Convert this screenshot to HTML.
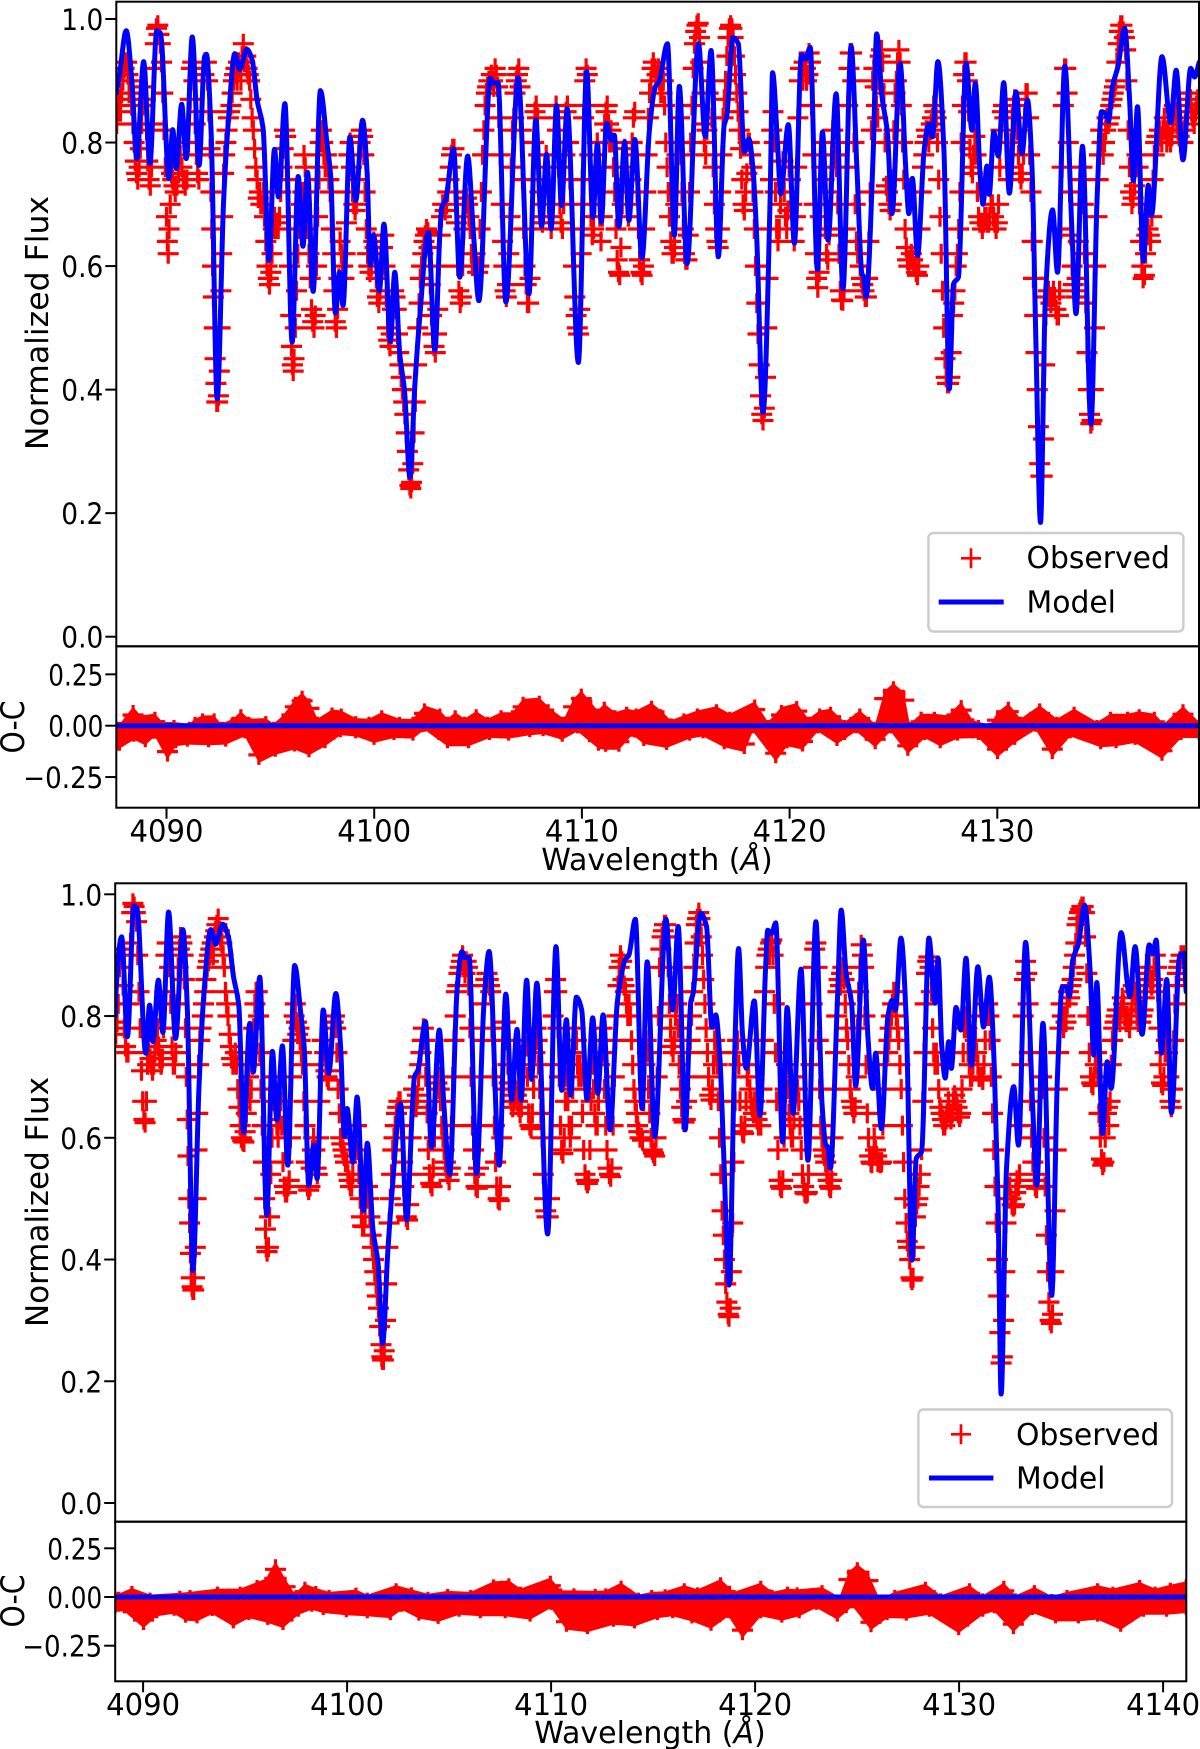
<!DOCTYPE html>
<html lang="en">
<head>
<meta charset="utf-8">
<title>Observed and model spectra</title>
<style>
html,body{margin:0;padding:0;background:#fff;}
svg{display:block;font-family:"DejaVu Sans","Liberation Sans",sans-serif;fill:#000;}
</style>
</head>
<body>
<svg id="chart" xmlns="http://www.w3.org/2000/svg" width="1200" height="1749" viewBox="0 0 1200 1749">
<rect x="0" y="0" width="1200" height="1749" fill="#fff"/>
<g id="panels"></g>

<text transform="translate(48,323) rotate(-90)" text-anchor="middle" font-size="31.5">Normalized Flux</text>
<text transform="translate(24,727) rotate(-90)" text-anchor="middle" font-size="32" textLength="53" lengthAdjust="spacingAndGlyphs">O-C</text>
<text x="657" y="870" text-anchor="middle" font-size="30">Wavelength (<tspan font-style="italic">Å</tspan>)</text>
<text transform="translate(48,1202) rotate(-90)" text-anchor="middle" font-size="31">Normalized Flux</text>
<text transform="translate(24,1601) rotate(-90)" text-anchor="middle" font-size="32" textLength="53" lengthAdjust="spacingAndGlyphs">O-C</text>
<text x="650" y="1743" text-anchor="middle" font-size="30">Wavelength (<tspan font-style="italic">Å</tspan>)</text>

<g>
<rect x="928.4" y="533" width="255" height="98.5" rx="5" fill="#fff" fill-opacity="0.8" stroke="#cccccc" stroke-width="2.4"/>
<path d="M961 558.3h20M971 548.3v20" stroke="#ff0000" stroke-width="2.7" fill="none"/>
<text x="1026.5" y="568" font-size="29.8">Observed</text>
<line x1="938.7" y1="602" x2="1003.7" y2="602" stroke="#0000ff" stroke-width="5"/>
<text x="1026.5" y="612.5" font-size="29.8">Model</text>
</g>
<g>
<rect x="918.4" y="1409.5" width="253.6" height="97.5" rx="5" fill="#fff" fill-opacity="0.8" stroke="#cccccc" stroke-width="2.4"/>
<path d="M951 1434.3h20M961 1424.3v20" stroke="#ff0000" stroke-width="2.7" fill="none"/>
<text x="1016" y="1445" font-size="29.8">Observed</text>
<line x1="929" y1="1478" x2="993.4" y2="1478" stroke="#0000ff" stroke-width="5"/>
<text x="1016" y="1488.3" font-size="29.8">Model</text>
</g>
</svg>

<script>
/* All wavelengths below are written as (wavelength - 4000 Angstrom), flat pairs: wave, value */
const waveTicksTop = [4090,4100,4110,4120,4130];
const waveTicksBottom = [4090,4100,4110,4120,4130,4140];
const fluxTicks = [0,0.2,0.4,0.6,0.8,1.0];
const fluxTickLabels = ["0.0","0.2","0.4","0.6","0.8","1.0"];
const residualTicks = [-0.25,0,0.25];
const residualTickLabels = ["\u22120.25","0.00","0.25"];

const modelTop = [
87.58,.88,87.73,.908,88.06,.981,88.33,.901,88.57,.774,88.90,.931,89.20,.766,89.53,.981,89.71,.977,90.12,.742,90.30,.821,90.47,.758,90.73,.862,90.95,.774,91.24,.971,91.57,.763,91.83,.939,91.92,.943,92.15,.815,92.44,.385,92.75,.706,92.97,.831,93.29,.944,93.53,.918,93.86,.951,94.13,.933,94.36,.869,94.65,.823,94.93,.609,95.20,.789,95.39,.712,95.70,.863,96.05,.477,96.34,.745,96.57,.632,96.79,.752,97.06,.559,97.41,.884,97.73,.798,97.91,.744,98.13,.524,98.33,.590,98.50,.536,98.83,.809,99.11,.706,99.44,.836,99.66,.750,99.81,.601,99.97,.650,100.25,.560,100.47,.668,100.78,.478,100.99,.590,101.23,.458,101.46,.398,101.72,.258,101.96,.409,102.18,.512,102.61,.655,102.92,.463,103.16,.652,103.25,.695,103.43,.706,103.82,.790,104.12,.582,104.50,.778,104.78,.652,105.04,.544,105.59,.904,105.74,.896,105.96,.897,106.34,.542,106.93,.905,107.45,.555,107.78,.837,108.06,.664,108.30,.781,108.52,.660,108.78,.860,109.02,.698,109.29,.855,109.83,.444,110.23,.915,110.53,.679,110.75,.798,110.93,.671,111.19,.831,111.41,.804,111.56,.812,111.78,.664,112.06,.801,112.26,.674,112.55,.805,112.89,.613,113.25,.820,113.53,.890,113.71,.898,114.12,.960,114.45,.650,114.69,.891,115.06,.604,115.61,.960,115.94,.810,116.22,.949,116.57,.615,116.85,.828,116.97,.842,117.27,.970,117.53,.960,117.82,.785,118.04,.806,118.23,.760,118.41,.652,118.72,.363,119.06,.706,119.18,.913,119.42,.798,119.57,.717,119.94,.829,120.23,.637,120.57,.942,120.77,.935,120.99,.954,121.34,.594,121.58,.817,121.85,.642,122.24,.879,122.57,.563,122.96,.956,123.24,.760,123.48,.588,123.57,.582,123.68,.550,124.03,.788,124.19,.976,124.45,.874,124.71,.815,124.93,.685,125.32,.928,125.59,.760,125.74,.685,125.91,.742,126.16,.617,126.48,.788,126.70,.830,126.88,.809,127.14,.931,127.43,.788,127.69,.401,127.89,.571,128.13,.582,128.50,.928,128.78,.820,128.94,.896,129.18,.744,129.31,.700,129.50,.762,129.61,.716,129.83,.817,130.05,.778,130.31,.897,130.58,.718,130.90,.882,131.19,.782,131.45,.869,131.67,.760,131.85,.490,132.08,.185,132.31,.544,132.66,.691,132.90,.590,133.25,.924,133.60,.652,133.79,.523,134.10,.794,134.51,.344,134.80,.706,135.02,.850,135.21,.847,135.35,.834,135.54,.890,135.81,.923,136.13,.985,136.37,.869,136.55,.738,136.75,.858,137.03,.608,137.27,.731,137.42,.682,137.93,.939,138.35,.832,138.61,.917,138.94,.772,139.31,.920,139.50,.906,139.72,.930];

const modelBottom = [
88.63,.80,88.66,.832,88.95,.930,89.23,.766,89.55,.981,89.70,.977,90.13,.739,90.32,.818,90.48,.758,90.75,.859,90.97,.773,91.25,.971,91.59,.763,91.95,.942,92.17,.810,92.44,.382,92.74,.684,92.98,.837,93.32,.942,93.56,.918,93.90,.951,94.18,.930,94.43,.865,94.69,.818,94.93,.609,95.23,.788,95.40,.708,95.72,.864,96.06,.473,96.34,.742,96.56,.629,96.83,.751,97.09,.555,97.43,.883,97.73,.804,97.90,.747,98.12,.522,98.37,.588,98.53,.533,98.83,.810,99.10,.706,99.45,.837,99.68,.750,99.87,.602,100.00,.648,100.28,.560,100.49,.667,100.80,.480,100.99,.591,101.27,.448,101.52,.393,101.74,.262,101.99,.410,102.21,.514,102.62,.656,102.92,.465,103.21,.656,103.30,.700,103.47,.711,103.84,.791,104.14,.584,104.52,.777,104.74,.656,105.03,.540,105.40,.848,105.63,.906,105.78,.896,105.98,.896,106.34,.541,106.71,.821,106.96,.906,107.46,.555,107.78,.836,108.07,.662,108.33,.778,108.53,.662,108.80,.859,109.04,.696,109.30,.854,109.83,.442,110.24,.914,110.52,.678,110.75,.794,110.95,.670,111.24,.831,111.50,.810,111.76,.663,112.04,.797,112.29,.673,112.55,.802,112.89,.613,113.24,.821,113.43,.865,113.62,.892,113.81,.900,114.13,.959,114.46,.648,114.71,.889,115.08,.602,115.63,.959,115.96,.810,116.23,.947,116.57,.613,116.85,.824,116.96,.837,117.32,.969,117.62,.947,117.88,.782,118.07,.802,118.27,.733,118.46,.574,118.72,.358,119.00,.739,119.19,.911,119.38,.771,119.57,.714,119.96,.825,120.24,.637,120.51,.876,120.62,.941,120.81,.936,121.01,.953,121.35,.593,121.57,.814,121.86,.640,122.25,.877,122.59,.563,122.98,.955,123.28,.656,123.47,.588,123.56,.585,123.69,.550,124.03,.821,124.22,.974,124.46,.870,124.73,.821,124.93,.685,125.31,.925,125.53,.766,125.76,.681,125.91,.739,126.19,.615,126.51,.799,126.72,.826,126.88,.810,127.15,.928,127.41,.793,127.69,.399,127.90,.566,128.16,.577,128.52,.928,128.82,.821,128.97,.895,129.15,.750,129.32,.698,129.49,.758,129.62,.714,129.85,.814,130.09,.777,130.34,.895,130.60,.719,130.92,.881,131.20,.782,131.48,.864,131.73,.711,131.91,.492,132.06,.179,132.32,.547,132.68,.684,132.91,.588,133.26,.921,133.60,.656,133.81,.522,134.11,.788,134.54,.341,134.82,.700,135.06,.848,135.25,.848,135.40,.832,135.57,.892,135.85,.919,136.15,.982,136.42,.876,136.60,.736,136.75,.855,137.03,.607,137.26,.725,137.45,.681,137.94,.937,138.37,.832,138.63,.914,138.97,.770,139.32,.917,139.51,.903,139.66,.925,139.92,.739,140.18,.860,140.41,.641,140.82,.900,141.01,.903,141.13,.840];

const observedTop = [
87.60,.83,87.66,.85,87.72,.87,87.78,.85,87.84,.88,87.90,.90,87.96,.92,88.02,.93,88.08,.93,88.14,.91,88.20,.88,88.26,.90,88.32,.86,88.38,.83,88.44,.80,88.50,.77,88.56,.75,88.62,.74,88.68,.76,88.74,.79,88.80,.83,88.86,.86,88.92,.89,88.98,.87,89.04,.82,89.10,.77,89.16,.74,89.22,.73,89.28,.76,89.34,.83,89.40,.92,89.46,.96,89.52,.985,89.58,.99,89.64,.975,89.70,.96,89.76,.93,89.82,.88,89.88,.82,89.94,.76,90.00,.68,90.04,.64,90.08,.62,90.12,.66,90.18,.70,90.24,.75,90.30,.74,90.36,.73,90.42,.72,90.50,.73,90.58,.75,90.66,.78,90.74,.76,90.82,.74,90.90,.73,90.98,.74,91.06,.80,91.14,.87,91.20,.92,91.26,.93,91.32,.90,91.38,.83,91.44,.78,91.50,.75,91.56,.74,91.62,.78,91.68,.85,91.74,.90,91.80,.91,91.86,.93,91.92,.93,91.98,.90,92.04,.85,92.10,.79,92.14,.72,92.18,.66,92.22,.60,92.26,.55,92.30,.50,92.34,.45,92.38,.41,92.42,.38,92.46,.38,92.50,.39,92.54,.43,92.58,.50,92.62,.56,92.66,.62,92.70,.68,92.75,.75,92.80,.78,92.86,.80,92.92,.82,92.98,.84,93.04,.85,93.10,.86,93.16,.88,93.22,.90,93.28,.91,93.34,.92,93.40,.90,93.46,.93,93.52,.92,93.58,.90,93.64,.94,93.70,.96,93.76,.93,93.82,.94,93.88,.92,93.94,.91,94.00,.90,94.06,.87,94.12,.84,94.18,.82,94.24,.79,94.30,.76,94.36,.74,94.42,.71,94.48,.72,94.54,.70,94.60,.70,94.66,.72,94.72,.68,94.78,.64,94.84,.60,94.90,.58,94.96,.57,95.02,.59,95.08,.62,95.14,.66,95.20,.68,95.26,.66,95.32,.67,95.38,.66,95.44,.68,95.50,.72,95.56,.76,95.62,.79,95.68,.82,95.74,.81,95.80,.74,95.86,.66,95.92,.60,95.98,.52,96.02,.47,96.06,.44,96.10,.43,96.14,.45,96.20,.50,96.26,.56,96.32,.62,96.38,.66,96.44,.68,96.50,.70,96.56,.72,96.62,.78,96.68,.76,96.74,.72,96.80,.66,96.86,.62,96.92,.58,96.98,.53,97.04,.51,97.10,.50,97.16,.52,97.22,.60,97.28,.68,97.34,.74,97.40,.80,97.46,.82,97.52,.80,97.58,.78,97.64,.76,97.70,.78,97.76,.76,97.82,.74,97.88,.72,97.94,.66,98.00,.62,98.06,.56,98.12,.51,98.18,.50,98.24,.53,98.30,.58,98.36,.64,98.42,.62,98.48,.60,98.54,.58,98.60,.62,98.66,.67,98.72,.72,98.78,.78,98.84,.80,98.90,.76,98.96,.72,99.02,.70,99.08,.69,99.14,.70,99.20,.74,99.26,.78,99.32,.80,99.38,.82,99.44,.81,99.50,.78,99.56,.72,99.62,.66,99.68,.62,99.74,.60,99.80,.59,99.86,.60,99.92,.62,99.98,.64,100.04,.63,100.10,.58,100.16,.55,100.22,.54,100.28,.56,100.34,.60,100.40,.63,100.46,.65,100.52,.60,100.58,.55,100.64,.50,100.70,.48,100.76,.47,100.82,.49,100.88,.53,100.94,.56,101.00,.55,101.06,.53,101.12,.49,101.18,.46,101.24,.44,101.30,.42,101.36,.40,101.42,.38,101.48,.36,101.54,.33,101.60,.30,101.66,.27,101.72,.245,101.76,.24,101.80,.25,101.86,.28,101.92,.33,101.98,.38,102.04,.44,102.10,.50,102.16,.54,102.22,.58,102.28,.60,102.34,.62,102.40,.64,102.46,.65,102.52,.66,102.58,.655,102.64,.63,102.70,.57,102.76,.52,102.82,.49,102.88,.47,102.94,.46,103.00,.49,103.06,.53,103.12,.60,103.18,.65,103.24,.68,103.30,.70,103.36,.70,103.42,.69,103.48,.70,103.54,.72,103.60,.74,103.66,.76,103.72,.78,103.78,.79,103.84,.79,103.90,.72,103.96,.67,104.02,.60,104.08,.56,104.14,.54,104.20,.55,104.26,.60,104.32,.66,104.38,.70,104.44,.71,104.50,.70,104.56,.68,104.62,.66,104.68,.62,104.74,.60,104.80,.60,104.86,.62,104.92,.60,104.98,.59,105.04,.60,105.10,.66,105.16,.72,105.22,.78,105.28,.82,105.34,.86,105.40,.88,105.46,.89,105.52,.90,105.58,.90,105.64,.91,105.70,.90,105.76,.89,105.82,.92,105.88,.91,105.94,.89,106.00,.84,106.06,.78,106.12,.70,106.18,.64,106.24,.60,106.30,.56,106.36,.55,106.42,.57,106.48,.62,106.54,.68,106.60,.76,106.66,.82,106.72,.84,106.78,.88,106.84,.90,106.90,.91,106.96,.92,107.02,.89,107.08,.82,107.14,.74,107.20,.66,107.26,.60,107.32,.57,107.38,.54,107.44,.54,107.50,.58,107.56,.66,107.62,.74,107.68,.80,107.74,.85,107.80,.86,107.86,.84,107.92,.78,107.98,.72,108.04,.68,108.10,.67,108.16,.70,108.22,.76,108.28,.78,108.34,.76,108.40,.70,108.46,.68,108.52,.66,108.58,.70,108.64,.78,108.70,.84,108.76,.86,108.82,.82,108.88,.76,108.94,.70,109.00,.67,109.06,.66,109.12,.70,109.18,.78,109.24,.85,109.30,.86,109.36,.80,109.42,.74,109.48,.70,109.54,.66,109.60,.60,109.66,.55,109.72,.52,109.78,.50,109.84,.49,109.90,.53,109.96,.62,110.02,.74,110.08,.84,110.14,.90,110.20,.92,110.26,.91,110.32,.86,110.38,.78,110.44,.68,110.50,.65,110.56,.66,110.62,.70,110.68,.78,110.74,.80,110.80,.76,110.86,.68,110.92,.64,110.98,.68,111.04,.76,111.10,.83,111.16,.85,111.22,.86,111.28,.83,111.34,.80,111.40,.82,111.46,.80,111.52,.76,111.58,.72,111.64,.66,111.70,.61,111.76,.59,111.82,.585,111.88,.63,111.94,.70,112.00,.76,112.06,.79,112.12,.74,112.18,.70,112.24,.68,112.30,.70,112.36,.74,112.42,.80,112.48,.84,112.54,.85,112.60,.78,112.66,.72,112.72,.66,112.78,.61,112.84,.59,112.90,.585,112.96,.60,113.02,.66,113.08,.72,113.14,.78,113.20,.84,113.26,.88,113.32,.90,113.38,.92,113.44,.93,113.50,.92,113.56,.90,113.62,.91,113.68,.92,113.74,.90,113.80,.88,113.86,.88,113.92,.90,113.98,.86,114.04,.80,114.10,.76,114.16,.72,114.22,.68,114.28,.64,114.34,.62,114.40,.62,114.46,.63,114.52,.70,114.58,.78,114.64,.84,114.70,.84,114.76,.78,114.82,.72,114.88,.66,114.94,.62,115.00,.61,115.06,.61,115.12,.65,115.18,.72,115.24,.80,115.30,.86,115.36,.92,115.42,.96,115.48,.98,115.54,.99,115.60,.993,115.66,.97,115.72,.93,115.78,.88,115.84,.83,115.90,.80,115.96,.78,116.02,.82,116.08,.88,116.14,.90,116.20,.90,116.26,.84,116.32,.76,116.38,.70,116.44,.66,116.50,.64,116.56,.63,116.62,.66,116.68,.72,116.74,.78,116.80,.84,116.86,.87,116.92,.90,116.98,.94,117.04,.97,117.10,.985,117.16,.99,117.22,.985,117.28,.97,117.34,.94,117.40,.91,117.46,.88,117.52,.85,117.58,.82,117.64,.79,117.70,.74,117.76,.70,117.82,.69,117.88,.72,117.94,.75,118.00,.80,118.06,.80,118.12,.78,118.18,.76,118.24,.72,118.30,.66,118.36,.60,118.42,.54,118.48,.49,118.54,.44,118.60,.39,118.66,.36,118.72,.35,118.78,.37,118.84,.42,118.90,.50,118.96,.58,119.02,.66,119.08,.74,119.14,.82,119.20,.85,119.26,.80,119.32,.72,119.38,.66,119.44,.64,119.50,.66,119.56,.70,119.62,.74,119.68,.77,119.74,.72,119.80,.68,119.86,.66,119.92,.69,119.98,.76,120.04,.74,120.10,.70,120.16,.66,120.22,.64,120.28,.68,120.34,.76,120.40,.84,120.46,.90,120.52,.92,120.58,.92,120.64,.90,120.70,.93,120.76,.92,120.82,.90,120.88,.91,120.94,.945,121.00,.93,121.06,.86,121.12,.78,121.18,.70,121.24,.62,121.30,.58,121.36,.565,121.42,.59,121.48,.68,121.54,.76,121.60,.80,121.66,.74,121.72,.66,121.78,.62,121.84,.61,121.90,.65,121.96,.72,122.02,.78,122.08,.82,122.14,.80,122.20,.78,122.26,.76,122.32,.70,122.38,.62,122.44,.56,122.50,.545,122.56,.544,122.62,.56,122.68,.66,122.74,.76,122.80,.86,122.86,.92,122.92,.945,122.98,.945,123.04,.90,123.10,.80,123.16,.70,123.22,.64,123.28,.62,123.34,.62,123.40,.60,123.46,.58,123.52,.57,123.58,.56,123.64,.55,123.70,.55,123.76,.58,123.82,.64,123.88,.72,123.94,.82,124.00,.90,124.06,.92,124.12,.89,124.18,.86,124.24,.84,124.30,.90,124.36,.94,124.42,.95,124.48,.93,124.54,.88,124.60,.80,124.66,.73,124.72,.72,124.78,.70,124.84,.69,124.90,.70,124.96,.74,125.02,.82,125.08,.88,125.14,.90,125.20,.93,125.26,.95,125.32,.93,125.38,.86,125.44,.80,125.50,.74,125.56,.66,125.62,.63,125.68,.61,125.74,.60,125.80,.61,125.86,.62,125.92,.61,125.98,.60,126.04,.60,126.10,.59,126.16,.585,126.22,.60,126.28,.66,126.34,.72,126.40,.76,126.46,.78,126.52,.80,126.58,.82,126.64,.81,126.70,.80,126.76,.82,126.82,.83,126.88,.84,126.94,.86,127.00,.85,127.06,.84,127.12,.80,127.18,.74,127.24,.68,127.30,.62,127.36,.56,127.42,.50,127.48,.45,127.54,.42,127.60,.41,127.66,.41,127.72,.42,127.78,.46,127.84,.52,127.90,.54,127.96,.56,128.02,.60,128.08,.62,128.14,.66,128.20,.72,128.26,.80,128.32,.86,128.38,.91,128.44,.93,128.50,.93,128.56,.90,128.62,.85,128.68,.79,128.74,.76,128.80,.75,128.86,.78,128.92,.81,128.98,.78,129.04,.72,129.10,.68,129.16,.67,129.22,.67,129.28,.66,129.34,.67,129.40,.68,129.46,.68,129.52,.67,129.58,.67,129.64,.68,129.70,.70,129.76,.70,129.82,.68,129.88,.67,129.94,.66,130.00,.67,130.06,.70,130.12,.76,130.18,.82,130.24,.85,130.30,.86,130.36,.84,130.42,.80,130.48,.76,130.54,.74,130.60,.76,130.66,.80,130.72,.84,130.78,.86,130.84,.87,130.90,.86,130.96,.82,131.02,.78,131.08,.75,131.14,.74,131.20,.75,131.26,.78,131.32,.84,131.38,.88,131.44,.88,131.50,.84,131.56,.78,131.62,.72,131.68,.64,131.74,.58,131.80,.52,131.86,.46,131.92,.40,131.98,.34,132.04,.28,132.10,.26,132.16,.26,132.22,.32,132.28,.44,132.34,.52,132.40,.55,132.46,.56,132.52,.55,132.58,.54,132.64,.55,132.70,.56,132.76,.55,132.82,.53,132.88,.52,132.94,.52,133.00,.56,133.06,.66,133.12,.76,133.18,.86,133.24,.92,133.30,.92,133.36,.88,133.42,.80,133.48,.72,133.54,.65,133.60,.60,133.66,.57,133.72,.56,133.78,.55,133.84,.58,133.90,.64,133.96,.70,134.02,.74,134.08,.76,134.14,.70,134.20,.62,134.26,.54,134.32,.46,134.38,.40,134.44,.36,134.50,.345,134.56,.35,134.62,.40,134.68,.50,134.74,.60,134.80,.68,134.86,.74,134.92,.78,134.98,.82,135.04,.80,135.10,.78,135.16,.80,135.22,.82,135.28,.84,135.34,.83,135.40,.84,135.46,.86,135.52,.87,135.58,.88,135.64,.89,135.70,.90,135.76,.93,135.82,.96,135.88,.98,135.94,.99,136.00,.99,136.06,.98,136.12,.97,136.18,.95,136.24,.90,136.30,.82,136.36,.76,136.42,.72,136.48,.70,136.54,.71,136.60,.73,136.66,.76,136.72,.78,136.78,.76,136.84,.70,136.90,.64,136.96,.60,137.02,.58,137.08,.585,137.14,.62,137.20,.65,137.26,.66,137.32,.65,137.38,.64,137.44,.68,137.50,.74,137.56,.78,137.62,.80,137.68,.81,137.74,.80,137.80,.82,137.86,.81,137.92,.80,137.98,.82,138.04,.84,138.10,.82,138.16,.80,138.22,.82,138.28,.81,138.34,.80,138.40,.81,138.46,.83,138.52,.86,138.58,.85,138.64,.83,138.70,.82,138.76,.81,138.82,.80,138.88,.80,138.94,.80,139.00,.82,139.06,.83,139.12,.84,139.18,.86,139.24,.88,139.30,.87,139.36,.85,139.42,.84,139.48,.83,139.54,.85,139.60,.86,139.66,.87];

const observedBottom = [
88.66,.77,88.72,.79,88.78,.82,88.84,.88,88.90,.90,88.96,.91,89.02,.85,89.08,.78,89.14,.75,89.20,.74,89.26,.74,89.32,.82,89.38,.92,89.44,.97,89.50,.985,89.56,.98,89.62,.97,89.68,.955,89.74,.90,89.80,.84,89.86,.78,89.92,.71,89.98,.66,90.04,.63,90.10,.625,90.16,.66,90.22,.72,90.28,.74,90.34,.73,90.40,.72,90.46,.71,90.52,.72,90.58,.74,90.64,.76,90.70,.78,90.76,.75,90.82,.73,90.88,.72,90.94,.73,91.00,.78,91.06,.84,91.12,.90,91.18,.92,91.24,.92,91.30,.88,91.36,.82,91.42,.75,91.48,.72,91.54,.72,91.60,.74,91.66,.82,91.72,.88,91.78,.91,91.84,.93,91.90,.92,91.96,.90,92.02,.86,92.08,.78,92.12,.70,92.16,.63,92.20,.57,92.24,.50,92.28,.46,92.32,.41,92.36,.37,92.40,.355,92.44,.35,92.48,.35,92.52,.37,92.56,.42,92.60,.50,92.64,.58,92.68,.64,92.72,.72,92.78,.76,92.84,.78,92.90,.80,92.96,.82,93.02,.84,93.08,.86,93.14,.88,93.20,.89,93.26,.90,93.32,.91,93.38,.92,93.44,.90,93.50,.93,93.56,.94,93.62,.95,93.68,.96,93.74,.94,93.80,.93,93.86,.92,93.92,.90,93.98,.88,94.04,.84,94.10,.82,94.16,.80,94.22,.77,94.28,.75,94.34,.73,94.40,.72,94.46,.72,94.52,.74,94.58,.72,94.64,.68,94.70,.65,94.76,.62,94.82,.60,94.88,.595,94.94,.593,95.00,.61,95.06,.64,95.12,.68,95.18,.70,95.24,.66,95.30,.68,95.36,.72,95.42,.78,95.48,.82,95.54,.84,95.60,.84,95.66,.80,95.72,.74,95.78,.68,95.84,.62,95.90,.56,95.96,.50,96.00,.45,96.04,.42,96.08,.413,96.14,.42,96.20,.47,96.26,.54,96.32,.60,96.38,.66,96.44,.70,96.50,.66,96.56,.62,96.62,.60,96.68,.63,96.74,.66,96.80,.62,96.86,.56,96.92,.52,96.98,.51,97.04,.51,97.10,.52,97.16,.53,97.22,.60,97.28,.70,97.34,.76,97.40,.80,97.46,.82,97.52,.79,97.58,.77,97.64,.78,97.70,.76,97.76,.74,97.82,.72,97.88,.66,97.94,.62,98.00,.56,98.06,.52,98.12,.514,98.18,.52,98.24,.55,98.30,.58,98.36,.60,98.42,.58,98.48,.55,98.54,.54,98.60,.60,98.66,.66,98.72,.72,98.78,.76,98.84,.76,98.90,.74,98.96,.71,99.02,.70,99.08,.695,99.14,.71,99.20,.74,99.26,.78,99.32,.79,99.38,.80,99.44,.78,99.50,.74,99.56,.68,99.62,.64,99.68,.60,99.74,.59,99.80,.58,99.86,.57,99.92,.56,99.98,.56,100.04,.54,100.10,.53,100.16,.52,100.22,.52,100.28,.54,100.34,.58,100.40,.62,100.46,.62,100.52,.58,100.58,.54,100.64,.50,100.70,.47,100.76,.455,100.82,.454,100.88,.47,100.94,.50,101.00,.52,101.06,.50,101.12,.47,101.18,.44,101.24,.42,101.30,.40,101.36,.38,101.42,.36,101.48,.34,101.54,.32,101.60,.29,101.66,.26,101.70,.24,101.74,.235,101.78,.235,101.82,.25,101.88,.30,101.94,.36,102.00,.42,102.06,.46,102.12,.50,102.18,.54,102.24,.58,102.30,.60,102.36,.62,102.42,.64,102.48,.65,102.54,.66,102.60,.66,102.66,.62,102.72,.56,102.78,.52,102.84,.49,102.90,.47,102.96,.465,103.02,.49,103.08,.54,103.14,.60,103.20,.66,103.26,.68,103.32,.66,103.38,.65,103.44,.67,103.50,.70,103.56,.72,103.62,.74,103.68,.76,103.74,.78,103.80,.76,103.86,.70,103.92,.64,103.98,.58,104.04,.54,104.10,.525,104.16,.52,104.22,.55,104.28,.60,104.34,.66,104.40,.69,104.46,.70,104.52,.68,104.58,.66,104.64,.62,104.70,.60,104.76,.58,104.82,.56,104.88,.55,104.94,.54,105.00,.53,105.06,.55,105.12,.62,105.18,.70,105.24,.76,105.30,.80,105.36,.84,105.42,.85,105.48,.87,105.54,.88,105.60,.89,105.66,.90,105.72,.88,105.78,.87,105.84,.89,105.90,.88,105.96,.85,106.02,.78,106.08,.70,106.14,.62,106.20,.58,106.26,.54,106.32,.52,106.38,.517,106.44,.55,106.50,.62,106.56,.70,106.62,.76,106.68,.82,106.74,.85,106.80,.86,106.86,.87,106.92,.86,106.98,.85,107.04,.84,107.10,.78,107.16,.70,107.22,.62,107.28,.56,107.34,.52,107.40,.50,107.46,.497,107.52,.52,107.58,.60,107.64,.68,107.70,.76,107.76,.79,107.82,.76,107.88,.72,107.94,.69,108.00,.67,108.06,.66,108.12,.65,108.18,.66,108.24,.68,108.30,.67,108.36,.66,108.42,.65,108.48,.64,108.54,.65,108.60,.68,108.66,.72,108.72,.76,108.78,.75,108.84,.70,108.90,.64,108.96,.62,109.02,.615,109.08,.64,109.14,.68,109.20,.74,109.26,.78,109.32,.76,109.38,.72,109.44,.68,109.50,.64,109.56,.60,109.62,.54,109.68,.50,109.74,.48,109.80,.47,109.86,.47,109.92,.50,109.98,.60,110.04,.72,110.10,.80,110.16,.84,110.22,.86,110.28,.84,110.34,.78,110.40,.70,110.46,.62,110.52,.58,110.58,.574,110.64,.60,110.70,.66,110.76,.70,110.82,.66,110.88,.62,110.94,.60,111.00,.62,111.06,.68,111.12,.74,111.18,.78,111.24,.76,111.30,.72,111.36,.70,111.42,.72,111.48,.70,111.54,.64,111.60,.58,111.66,.54,111.72,.53,111.78,.525,111.84,.53,111.90,.58,111.96,.66,112.02,.72,112.08,.68,112.14,.64,112.20,.62,112.26,.62,112.32,.66,112.38,.72,112.44,.76,112.50,.78,112.56,.74,112.62,.68,112.68,.62,112.74,.58,112.80,.55,112.86,.54,112.92,.536,112.98,.55,113.04,.62,113.10,.70,113.16,.76,113.22,.80,113.28,.85,113.34,.88,113.40,.90,113.46,.89,113.52,.86,113.58,.85,113.64,.84,113.70,.82,113.76,.80,113.82,.82,113.88,.80,113.94,.76,114.00,.72,114.06,.68,114.12,.66,114.18,.64,114.24,.62,114.30,.61,114.36,.60,114.42,.60,114.48,.596,114.54,.66,114.60,.72,114.66,.76,114.72,.74,114.78,.68,114.84,.64,114.90,.60,114.96,.58,115.02,.575,115.08,.57,115.14,.60,115.20,.70,115.26,.80,115.32,.88,115.38,.91,115.44,.93,115.50,.94,115.56,.95,115.62,.95,115.68,.93,115.74,.88,115.80,.82,115.86,.78,115.92,.75,115.98,.74,116.04,.76,116.10,.80,116.16,.82,116.22,.78,116.28,.72,116.34,.68,116.40,.65,116.46,.63,116.52,.626,116.58,.63,116.64,.66,116.70,.70,116.76,.74,116.82,.76,116.88,.80,116.94,.84,117.00,.88,117.06,.92,117.12,.95,117.18,.96,117.24,.97,117.30,.96,117.36,.93,117.42,.90,117.48,.86,117.54,.82,117.60,.78,117.66,.74,117.72,.70,117.78,.67,117.84,.662,117.90,.68,117.96,.72,118.02,.76,118.08,.74,118.14,.72,118.20,.66,118.26,.60,118.32,.54,118.38,.48,118.44,.44,118.50,.40,118.56,.36,118.62,.33,118.68,.31,118.72,.306,118.78,.32,118.84,.38,118.90,.46,118.96,.56,119.02,.66,119.08,.74,119.14,.76,119.20,.72,119.26,.66,119.32,.62,119.38,.61,119.44,.607,119.50,.62,119.56,.66,119.62,.70,119.68,.72,119.74,.68,119.80,.66,119.86,.65,119.92,.64,119.98,.66,120.04,.64,120.10,.63,120.16,.62,120.22,.62,120.28,.62,120.34,.68,120.40,.76,120.46,.84,120.52,.88,120.58,.90,120.64,.91,120.70,.90,120.76,.92,120.82,.925,120.88,.90,120.94,.82,121.00,.74,121.06,.66,121.12,.58,121.18,.53,121.24,.52,121.30,.517,121.36,.53,121.42,.60,121.48,.68,121.54,.72,121.60,.68,121.66,.64,121.72,.62,121.78,.60,121.84,.60,121.90,.63,121.96,.68,122.02,.70,122.08,.68,122.14,.66,122.20,.62,122.26,.58,122.32,.54,122.38,.52,122.44,.51,122.50,.508,122.56,.51,122.62,.54,122.68,.62,122.74,.72,122.80,.82,122.86,.88,122.92,.91,122.98,.92,123.04,.88,123.10,.76,123.16,.68,123.22,.62,123.28,.60,123.34,.58,123.40,.57,123.46,.56,123.52,.54,123.58,.53,123.64,.52,123.70,.517,123.76,.53,123.82,.60,123.88,.68,123.94,.74,124.00,.80,124.06,.84,124.12,.86,124.18,.85,124.24,.87,124.30,.88,124.36,.86,124.42,.82,124.48,.78,124.54,.76,124.60,.72,124.66,.68,124.72,.66,124.78,.65,124.84,.64,124.90,.65,124.96,.70,125.02,.78,125.08,.84,125.14,.88,125.20,.917,125.26,.90,125.32,.88,125.38,.80,125.44,.72,125.50,.64,125.56,.60,125.62,.57,125.68,.56,125.72,.558,125.78,.57,125.84,.60,125.90,.58,125.96,.57,126.02,.56,126.08,.56,126.14,.558,126.20,.56,126.26,.62,126.32,.68,126.38,.72,126.44,.74,126.50,.74,126.56,.76,126.62,.78,126.68,.80,126.74,.82,126.80,.84,126.86,.82,126.92,.80,126.98,.78,127.04,.76,127.10,.72,127.16,.68,127.22,.62,127.28,.56,127.34,.50,127.40,.46,127.46,.43,127.52,.42,127.58,.40,127.64,.37,127.69,.366,127.74,.37,127.80,.42,127.86,.47,127.92,.49,127.98,.50,128.04,.52,128.10,.54,128.16,.58,128.22,.66,128.28,.74,128.34,.82,128.40,.87,128.46,.89,128.52,.897,128.58,.88,128.64,.84,128.70,.78,128.76,.74,128.82,.72,128.88,.74,128.94,.72,129.00,.68,129.06,.65,129.12,.64,129.18,.63,129.24,.62,129.30,.62,129.36,.63,129.42,.64,129.48,.66,129.54,.64,129.60,.63,129.66,.64,129.72,.66,129.78,.67,129.84,.66,129.90,.65,129.96,.64,130.02,.634,130.08,.64,130.14,.68,130.20,.74,130.26,.78,130.32,.80,130.38,.78,130.44,.74,130.50,.72,130.56,.70,130.62,.70,130.68,.72,130.74,.74,130.80,.76,130.86,.74,130.92,.72,130.98,.70,131.04,.70,131.10,.70,131.16,.695,131.22,.72,131.28,.76,131.34,.80,131.40,.82,131.46,.80,131.52,.76,131.58,.70,131.64,.64,131.70,.58,131.76,.52,131.82,.46,131.88,.40,131.94,.34,132.00,.28,132.06,.23,132.12,.24,132.18,.30,132.24,.38,132.30,.46,132.36,.50,132.42,.52,132.48,.52,132.54,.50,132.60,.49,132.66,.487,132.72,.49,132.78,.51,132.84,.53,132.90,.52,132.96,.54,133.02,.62,133.08,.72,133.14,.80,133.20,.86,133.26,.89,133.32,.87,133.38,.82,133.44,.74,133.50,.66,133.56,.60,133.62,.56,133.68,.53,133.74,.52,133.80,.517,133.86,.54,133.92,.60,133.98,.68,134.04,.70,134.10,.68,134.16,.60,134.22,.52,134.28,.44,134.34,.38,134.40,.33,134.46,.30,134.52,.295,134.58,.31,134.64,.38,134.70,.48,134.76,.58,134.82,.68,134.88,.74,134.94,.78,135.00,.82,135.06,.80,135.12,.78,135.18,.80,135.24,.79,135.30,.82,135.36,.84,135.42,.83,135.48,.85,135.54,.86,135.60,.88,135.66,.90,135.72,.92,135.78,.95,135.84,.96,135.90,.97,135.96,.975,136.02,.98,136.08,.98,136.14,.97,136.20,.93,136.26,.87,136.32,.80,136.38,.74,136.44,.70,136.50,.69,136.56,.686,136.62,.70,136.68,.72,136.74,.74,136.80,.70,136.86,.64,136.92,.60,136.98,.565,137.04,.555,137.10,.56,137.16,.60,137.22,.64,137.28,.65,137.34,.62,137.40,.66,137.46,.72,137.52,.76,137.58,.78,137.64,.79,137.70,.80,137.76,.81,137.82,.80,137.88,.79,137.94,.81,138.00,.83,138.06,.82,138.12,.80,138.18,.79,138.24,.80,138.30,.79,138.36,.78,138.42,.80,138.48,.82,138.54,.85,138.60,.84,138.66,.82,138.72,.80,138.78,.79,138.84,.79,138.90,.79,138.96,.80,139.02,.81,139.08,.83,139.14,.85,139.20,.86,139.26,.87,139.32,.88,139.38,.86,139.44,.85,139.50,.86,139.56,.88,139.62,.90,139.68,.88,139.74,.84,139.80,.78,139.86,.72,139.92,.69,139.98,.686,140.04,.70,140.10,.74,140.16,.76,140.22,.74,140.28,.70,140.34,.66,140.40,.65,140.46,.68,140.52,.76,140.58,.82,140.64,.85,140.70,.87,140.76,.88,140.82,.89,140.88,.90,140.94,.90,141.00,.90,141.06,.88,141.12,.86];

const residualUpperTop = [
87.60,-.035,87.73,-.035,88.06,.011,88.39,.052,88.76,.011,89.44,.019,89.81,-.021,90.36,-.021,91.10,-.029,91.37,-.005,91.74,.011,92.29,.011,92.62,-.029,93.21,-.005,93.58,.031,93.95,-.005,94.78,-.002,95.15,-.029,95.61,.011,96.20,.092,96.53,.121,96.86,.084,97.27,-.005,97.97,.040,98.41,.035,99.11,-.002,99.75,-.005,100.36,.027,101.22,-.005,101.87,-.005,102.42,.060,103.16,.035,103.53,-.005,103.90,.027,104.35,-.005,104.91,.031,105.46,-.005,106.11,.027,106.66,.027,107.17,.092,107.95,.097,108.59,.035,109.14,-.005,109.60,.092,109.97,.132,110.43,.076,110.75,.035,111.08,.068,111.60,.027,112.15,.044,112.61,.035,113.35,.073,113.90,.027,114.27,-.013,114.91,.011,115.56,.035,116.48,.056,117.12,.019,118.32,.079,118.96,-.021,119.61,.052,120.34,.071,120.90,-.005,121.45,.035,121.97,.044,122.65,-.021,123.38,.035,124.12,-.029,124.58,.132,125.00,.168,125.50,.124,125.78,-.029,126.33,.019,126.97,.019,127.62,.011,128.26,.076,128.82,-.013,129.65,-.034,130.01,.027,130.53,.068,131.12,-.005,132.04,.060,132.87,-.005,133.70,.044,134.80,-.021,135.45,.019,136.27,.019,136.83,.031,137.56,.019,138.02,-.029,138.94,.056,139.72,-.021];
const residualLowerTop = [
87.60,-.073,87.73,-.073,88.43,-.029,88.98,-.056,89.44,-.013,90.05,-.126,90.45,-.061,91.00,-.053,92.02,-.056,92.85,-.053,93.77,-.013,94.45,-.142,95.24,-.102,96.16,-.077,96.86,-.105,97.63,-.061,98.37,-.008,99.11,-.013,99.99,-.045,100.95,-.021,101.87,-.024,102.42,.019,103.53,-.061,104.54,-.061,105.55,-.021,106.47,-.024,107.49,-.008,108.13,-.002,109.05,-.029,109.79,.011,110.80,-.073,111.14,-.078,111.78,-.078,112.43,-.005,112.98,-.050,114.08,-.069,115.19,-.024,115.83,-.013,116.85,-.066,117.82,-.089,118.23,.011,119.33,-.134,119.88,-.061,120.62,-.077,121.36,.011,122.28,-.050,123.20,.011,124.12,-.066,124.86,.011,125.69,-.098,126.51,-.021,127.25,-.061,128.08,-.024,129.09,-.021,130.01,-.114,130.84,-.045,131.85,.019,132.65,-.114,133.51,-.013,134.98,-.066,135.72,-.061,136.64,-.045,137.93,-.122,138.85,-.021,139.72,-.021];
const residualUpperBottom = [
88.63,-.024,88.80,-.024,89.45,.005,90.34,-.029,91.80,-.019,92.30,-.015,93.64,.002,94.76,.002,95.59,.036,96.02,.053,96.49,.142,96.96,.053,97.43,-.024,97.93,.027,98.46,.005,99.12,-.015,100.43,-.003,100.99,-.029,102.40,.019,103.15,-.002,103.96,-.024,104.93,-.010,106.06,-.015,107.18,.039,107.93,.044,108.50,.002,109.96,.058,110.47,-.007,111.12,-.007,112.16,-.010,112.68,-.007,113.43,.032,114.28,-.029,114.93,-.015,115.59,-.012,116.53,.019,117.18,-.002,118.31,.050,118.97,-.015,120.28,.032,120.84,-.015,121.59,.002,122.06,-.002,123.28,.010,124.13,-.041,124.60,.090,125.01,.127,125.53,.084,126.10,-.050,126.85,-.015,128.35,.027,129.10,-.033,130.51,.019,131.16,-.033,132.19,.032,132.76,-.033,133.69,.010,134.54,-.036,135.29,-.015,136.79,.019,137.54,.002,138.85,.036,139.61,.002,140.36,.022,141.13,.039];
const residualLowerBottom = [
88.63,-.033,89.08,-.033,90.02,-.118,90.67,-.058,91.52,-.045,92.08,-.080,92.64,-.084,93.39,-.046,94.42,-.110,95.18,-.067,96.11,-.092,96.86,-.118,97.61,-.050,98.27,-.024,98.83,-.041,99.96,-.053,100.99,-.058,102.12,-.067,102.68,-.024,103.52,-.070,104.46,-.087,105.49,-.050,106.53,-.058,107.75,-.058,108.97,-.075,110.00,-.015,110.75,-.127,111.78,-.139,113.06,-.101,114.09,-.110,115.21,-.067,115.96,-.058,116.90,-.084,117.84,-.122,118.69,-.058,119.38,-.170,120.28,-.058,121.31,-.080,122.16,-.058,123.00,-.015,124.03,-.075,124.78,-.007,125.68,-.130,126.47,-.067,127.41,-.070,128.54,-.050,129.98,-.144,131.16,-.050,131.72,-.033,132.66,-.139,133.60,-.041,134.73,-.084,135.85,-.084,136.79,-.075,137.92,-.127,139.04,-.050,140.17,-.050,141.13,-.041];
const zeroResidual = [0,0];

const waveOrigin = 4000;
const svgNS = "http://www.w3.org/2000/svg";
const panelsRoot = document.getElementById("panels");

function addEl(parent, tag, attrs){
  const el = document.createElementNS(svgNS, tag);
  for (const k in attrs) el.setAttribute(k, attrs[k]);
  parent.appendChild(el);
  return el;
}

/* monotone cubic path through given pixel points */
function smoothPath(xs, ys){
  const n = xs.length, d = [], m = [];
  for (let i = 0; i < n - 1; i++) d.push((ys[i+1] - ys[i]) / (xs[i+1] - xs[i]));
  m.push(d[0]);
  for (let i = 1; i < n - 1; i++) {
    if (d[i-1] * d[i] <= 0) { m.push(0); continue; }
    const h0 = xs[i] - xs[i-1], h1 = xs[i+1] - xs[i];
    const w = 3 * (h0 + h1);
    m.push(w / ((2*h1 + h0) / d[i-1] + (h1 + 2*h0) / d[i]));
  }
  m.push(d[n-2]);
  let s = "M" + xs[0].toFixed(2) + " " + ys[0].toFixed(2);
  for (let i = 0; i < n - 1; i++) {
    const h = (xs[i+1] - xs[i]) / 3;
    s += "C" + (xs[i]+h).toFixed(2) + " " + (ys[i]+m[i]*h).toFixed(2) + " " +
         (xs[i+1]-h).toFixed(2) + " " + (ys[i+1]-m[i+1]*h).toFixed(2) + " " +
         xs[i+1].toFixed(2) + " " + ys[i+1].toFixed(2);
  }
  return s;
}

function crossPath(pairs, xFn, yFn){
  let s = "";
  for (let i = 0; i < pairs.length; i += 2) {
    const x = xFn(pairs[i]), y = yFn(pairs[i+1]);
    s += "M" + (x-10.5).toFixed(1) + " " + y.toFixed(1) + "h21M" + x.toFixed(1) + " " + (y-10).toFixed(1) + "v20";
  }
  return s;
}

/* horizontally condensed width of the y tick labels, as in the reference */
function yLabelWidth(text){
  return text.length === 3 ? 42 : text.length === 4 ? 55 : 80;
}

function drawPanel(p){
  const g = addEl(panelsRoot, "g", {});
  
  
  const xFn = w => p.x4090 + (w + waveOrigin - 4090) * p.xPerA;
  const yFlux = f => p.y0 - f * p.yPerUnit;
  const yRes = r => p.r0 - r * p.rPerUnit;
  const w = p.right - p.left;
  const markerReach = 8;

  const defs = addEl(g, "defs", {});
  const c1 = addEl(defs, "clipPath", {id: "clip-flux-" + p.id});
  addEl(c1, "rect", {x: p.left, y: p.top, width: w, height: p.mid - p.top});
  const c2 = addEl(defs, "clipPath", {id: "clip-res-" + p.id});
  addEl(c2, "rect", {x: p.left, y: p.mid, width: w, height: p.bottom - p.mid});

  /* flux panel marks */
  const fluxMarks = addEl(g, "g", {"clip-path": "url(#clip-flux-" + p.id + ")"});
  const obs = addEl(fluxMarks, "path", {d: crossPath(p.observed, xFn, yFlux), stroke: "#ff0000", "stroke-width": 3.2, fill: "none"});
  
  
  const mx = [], my = [];
  for (let i = 0; i < p.model.length; i += 2) { mx.push(xFn(p.model[i])); my.push(yFlux(p.model[i+1])); }
  const model = addEl(fluxMarks, "path", {d: smoothPath(mx, my), stroke: "#0000ff", "stroke-width": 5, fill: "none", "stroke-linejoin": "round", "stroke-linecap": "round"});
  
  

  /* residual panel marks: envelope of the + markers, then the markers */
  const resMarks = addEl(g, "g", {"clip-path": "url(#clip-res-" + p.id + ")"});
  const band = [];
  for (let i = 0; i < p.resUpper.length; i += 2) band.push(xFn(p.resUpper[i]).toFixed(1) + "," + (yRes(p.resUpper[i+1]) - markerReach).toFixed(1));
  for (let i = p.resLower.length - 2; i >= 0; i -= 2) band.push(xFn(p.resLower[i]).toFixed(1) + "," + (yRes(p.resLower[i+1]) + markerReach).toFixed(1));
  const bandEl = addEl(resMarks, "polygon", {points: band.join(" "), fill: "#ff0000"});
  
  
  const resPts = addEl(resMarks, "path", {d: crossPath(p.resUpper.concat(p.resLower), xFn, yRes), stroke: "#ff0000", "stroke-width": 3.2, fill: "none"});
  
  
  const zero = addEl(resMarks, "line", {x1: p.left, x2: p.right, y1: yRes(zeroResidual[0]), y2: yRes(zeroResidual[1]), stroke: "#0000ff", "stroke-width": 5});
  
  

  /* frames */
  const f1 = addEl(g, "rect", {x: p.left, y: p.top, width: w, height: p.mid - p.top, fill: "none", stroke: "#000", "stroke-width": 2});
  
  
  const f2 = addEl(g, "rect", {x: p.left, y: p.mid, width: w, height: p.bottom - p.mid, fill: "none", stroke: "#000", "stroke-width": 2});
  
  

  /* flux ticks */
  fluxTicks.forEach((v, i) => {
    const y = yFlux(v);
    const t = addEl(g, "line", {x1: p.left - 11, x2: p.left, y1: y, y2: y, stroke: "#000", "stroke-width": 2});
    
    
    const l = addEl(g, "text", {x: p.left - 13, y: y + 11, "text-anchor": "end", "font-size": 29, textLength: yLabelWidth(fluxTickLabels[i]), lengthAdjust: "spacingAndGlyphs"});
    l.textContent = fluxTickLabels[i];
    
    
  });
  /* residual ticks */
  residualTicks.forEach((v, i) => {
    const y = yRes(v);
    const t = addEl(g, "line", {x1: p.left - 11, x2: p.left, y1: y, y2: y, stroke: "#000", "stroke-width": 2});
    
    
    const l = addEl(g, "text", {x: p.left - 13, y: y + 11, "text-anchor": "end", "font-size": 29, textLength: yLabelWidth(residualTickLabels[i]), lengthAdjust: "spacingAndGlyphs"});
    l.textContent = residualTickLabels[i];
    
    
  });
  /* wavelength ticks */
  p.waveTicks.forEach(v => {
    const x = xFn(v - waveOrigin);
    const t = addEl(g, "line", {x1: x, x2: x, y1: p.bottom, y2: p.bottom + 11, stroke: "#000", "stroke-width": 2});
    
    
    const l = addEl(g, "text", {x: x, y: p.bottom + 33.7, "text-anchor": "middle", "font-size": 30.5, textLength: 74, lengthAdjust: "spacingAndGlyphs"});
    l.textContent = String(v);
    
    
  });
}

drawPanel({id: "top", left: 116.3, right: 1199, top: 1.7, mid: 646.3, bottom: 807.7,
  x4090: 166.5, xPerA: 20.77, y0: 636.7, yPerUnit: 617.7, r0: 725.7, rPerUnit: 205.4,
  waveTicks: waveTicksTop, observed: observedTop, model: modelTop, resUpper: residualUpperTop, resLower: residualLowerTop});
drawPanel({id: "bottom", left: 115.2, right: 1186.3, top: 883.3, mid: 1521.7, bottom: 1681.3,
  x4090: 143.1, xPerA: 20.40, y0: 1503, yPerUnit: 608.7, r0: 1597, rPerUnit: 194.8,
  waveTicks: waveTicksBottom, observed: observedBottom, model: modelBottom, resUpper: residualUpperBottom, resLower: residualLowerBottom});
</script>
</body>
</html>
